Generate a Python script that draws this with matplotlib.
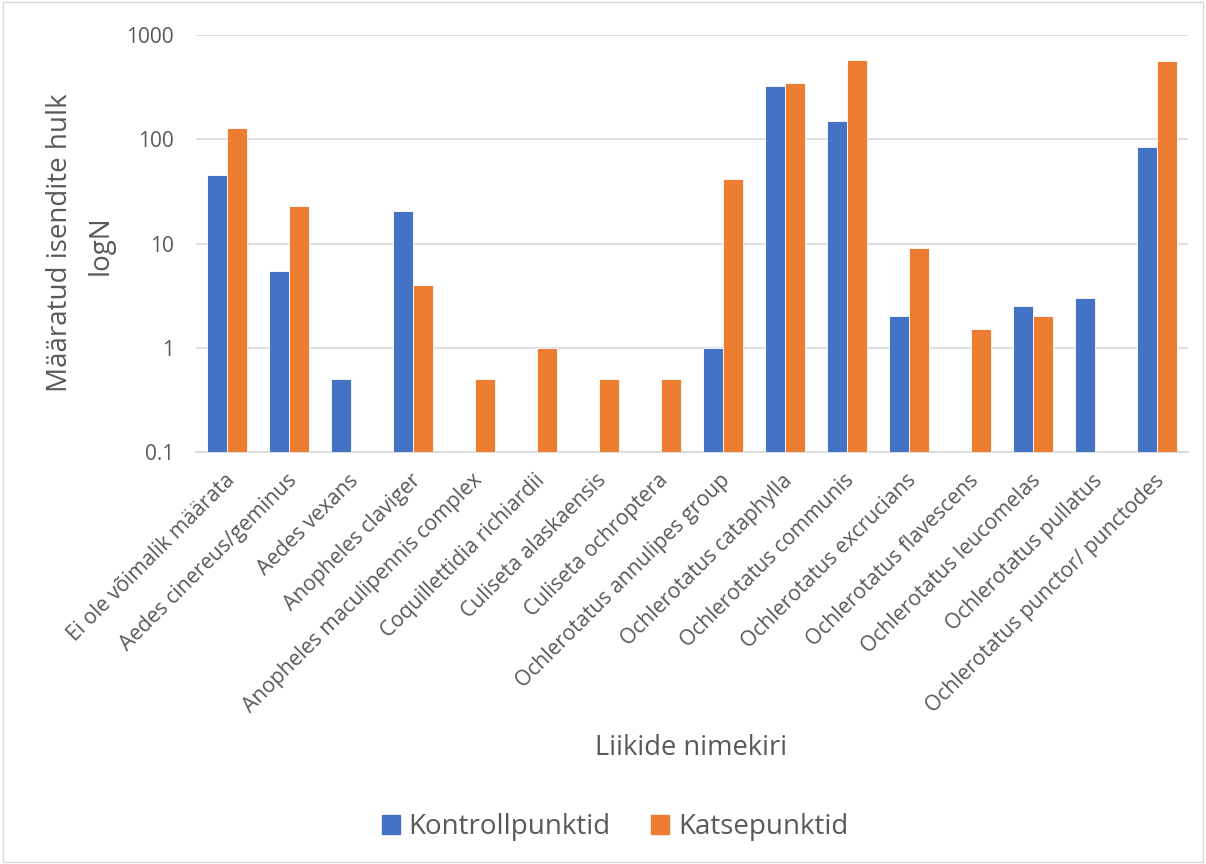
import matplotlib
matplotlib.use("Agg")
import matplotlib.pyplot as plt
import matplotlib.transforms as mtransforms
import numpy as np
from matplotlib.patches import Rectangle, Patch

categories = [
    "Ei ole võimalik määrata", "Aedes cinereus/geminus", "Aedes vexans",
    "Anopheles claviger", "Anopheles maculipennis complex",
    "Coquillettidia richiardii", "Culiseta alaskaensis", "Culiseta ochroptera",
    "Ochlerotatus annulipes group", "Ochlerotatus cataphylla",
    "Ochlerotatus communis", "Ochlerotatus excrucians",
    "Ochlerotatus flavescens", "Ochlerotatus leucomelas",
    "Ochlerotatus pullatus", "Ochlerotatus punctor/ punctodes",
]
kontroll = [45, 5.5, 0.5, 20.5, 0, 0, 0, 0, 1, 325, 150, 2, 0, 2.5, 3, 85]
katse = [128, 23, 0, 4, 0.5, 1, 0.5, 0.5, 42, 350, 570, 9, 1.5, 2, 0, 560]
series_names = ["Kontrollpunktid", "Katsepunktid"]
y_ticks = [0.1, 1, 10, 100, 1000]
y_tick_labels = ["0.1", "1", "10", "100", "1000"]

plt.rcParams['font.family'] = ['Open Sans', 'DejaVu Sans']
txt = "#595959"
blue = "#4472C4"
orange = "#ED7D31"

fig = plt.figure(figsize=(12.06, 8.64), dpi=100)
ax = fig.add_axes([196/1206, 1-452/864, (1188-196)/1206, (452-35)/864])

x = np.arange(len(categories))
w = 0.33
kv = np.array(kontroll, dtype=float)
cv = np.array(katse, dtype=float)
base = 0.1
ax.bar(x - w/2, np.where(kv > 0, kv - base, 0), w, bottom=base, color=blue,
       edgecolor="white", linewidth=0.6, zorder=3)
ax.bar(x + w/2, np.where(cv > 0, cv - base, 0), w, bottom=base, color=orange,
       edgecolor="white", linewidth=0.6, zorder=3)

ax.set_yscale("log")
ax.set_ylim(0.1, 1000)
ax.set_xlim(-0.5, len(categories) - 0.5)
ax.set_yticks(y_ticks)
ax.set_yticklabels(y_tick_labels)
ax.minorticks_off()
ax.yaxis.grid(True, color="#d9d9d9", linewidth=1.2, zorder=0)
for s in ["top", "right", "left"]:
    ax.spines[s].set_visible(False)
ax.spines["bottom"].set_color("#d9d9d9")
ax.spines["bottom"].set_linewidth(1.2)
ax.tick_params(axis="both", length=0, colors=txt, labelsize=15)
ax.tick_params(axis="y", pad=16)
ax.set_xticks(x)
ax.set_xticklabels(categories, rotation=45, ha="right", rotation_mode="anchor",
                   fontsize=15.2, color=txt)
ax.tick_params(axis="x", pad=13)
offset = mtransforms.ScaledTranslation(-3/100, 0, fig.dpi_scale_trans)
for lab in ax.get_xticklabels():
    lab.set_transform(lab.get_transform() + offset)

fig.text(60/1206, 1-243/864, "Määratud isendite hulk", rotation=90,
         ha="center", va="center", fontsize=20, color=txt)
fig.text(101/1206, 1-245/864, "logN", rotation=90,
         ha="center", va="center", fontsize=20, color=txt)
fig.text(691/1206, 1-748/864, "Liikide nimekiri", ha="center", va="center",
         fontsize=19.7, color=txt)

handles = [Patch(color=blue), Patch(color=orange)]
fig.legend(handles, series_names, loc="center", bbox_to_anchor=(615/1206, 1-827/864),
           ncol=2, frameon=False, fontsize=20, labelcolor=txt,
           handlelength=0.65, handleheight=0.65, handletextpad=0.32, columnspacing=1.45)

fig.patches.append(Rectangle((3/1206, 2/864), 1200/1206, 860/864, transform=fig.transFigure,
                             fill=False, edgecolor="#d9d9d9", linewidth=1))

fig.savefig("out.png", dpi=100, facecolor="white")
